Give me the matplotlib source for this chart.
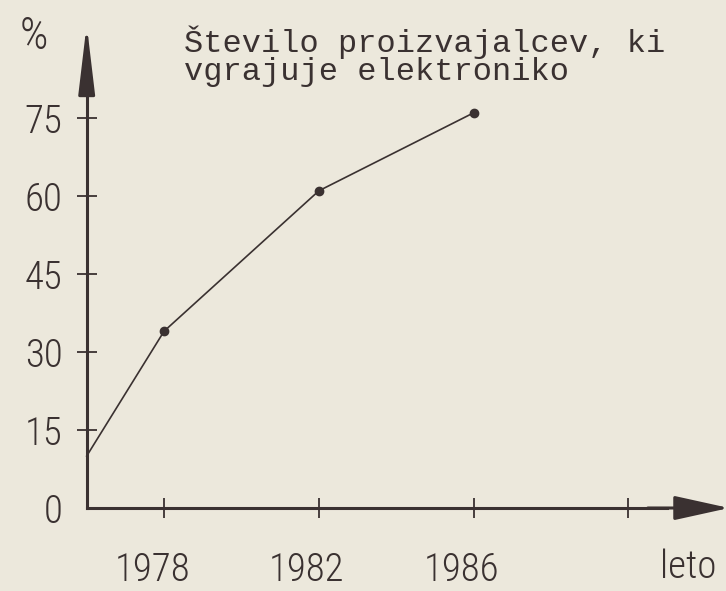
import matplotlib.pyplot as plt
import matplotlib.transforms as mtransforms
from matplotlib import font_manager

# Data
years = [1976, 1978, 1982, 1986]
share = [10, 34, 61, 76]

y_ticks = [0, 15, 30, 45, 60, 75]
x_ticks = [1978, 1982, 1986, 1990]
x_labels = ["1978", "1982", "1986", ""]

title_lines = "Število proizvajalcev, ki\nvgrajuje elektroniko"

PAPER = "#ece8dc"
INK = "#3a3131"

# pick a narrow face for the numbers if one is installed
names = {f.name for f in font_manager.fontManager.ttflist}
NUM_FONT = "DejaVu Sans"
for cand in ["Liberation Sans Narrow", "DejaVu Sans Condensed", "Roboto Condensed",
             "Open Sans Condensed", "Noto Sans Condensed"]:
    if cand in names:
        NUM_FONT = cand
        break
num_kw = dict(family=[NUM_FONT, "DejaVu Sans"], stretch="condensed", weight="light")

fig = plt.figure(figsize=(7.26, 5.91), dpi=100, facecolor=PAPER)
ax = fig.add_axes([0, 0, 1, 1], facecolor=PAPER)
ax.set_xlim(1973.76, 1992.52)
ax.set_ylim(-15.96, 97.69)

# Axes drawn hand-style: spines crossing at (1976, 0)
for side in ["top", "right"]:
    ax.spines[side].set_visible(False)
ax.spines["left"].set_position(("data", years[0]))
ax.spines["bottom"].set_position(("data", 0))
ax.spines["left"].set_bounds(0, 85)
ax.spines["bottom"].set_bounds(years[0], 1991)
for side in ["left", "bottom"]:
    ax.spines[side].set_linewidth(2.2)
    ax.spines[side].set_color(INK)

# Arrow heads
ax.annotate("", xy=(years[0], 93), xytext=(years[0], 80), annotation_clip=False,
            arrowprops=dict(arrowstyle="-|>,head_length=4.2,head_width=0.5",
                            color=INK, lw=2.2, shrinkA=0, shrinkB=0))
ax.annotate("", xy=(1992.6, 0), xytext=(1990.5, 0), annotation_clip=False,
            arrowprops=dict(arrowstyle="-|>,head_length=3.4,head_width=0.75",
                            color=INK, lw=2.2, shrinkA=0, shrinkB=0))

ax.set_yticks(y_ticks)
ax.set_yticklabels([str(v) for v in y_ticks])
ax.set_xticks(x_ticks)
ax.set_xticklabels(x_labels)
ax.tick_params(axis="both", direction="inout", length=15, width=1.3,
               color=INK, labelcolor=INK, labelsize=28)
ax.tick_params(axis="y", pad=10)
ax.tick_params(axis="x", pad=24)
for lab in ax.get_yticklabels() + ax.get_xticklabels():
    lab.set_fontfamily(num_kw["family"])
    lab.set_fontstretch("condensed")
    lab.set_fontweight("light")
shift = mtransforms.ScaledTranslation(-12 / 100, 0, fig.dpi_scale_trans)
for lab in ax.get_xticklabels():
    lab.set_transform(lab.get_transform() + shift)
# hide the tick at the origin
ax.yaxis.get_major_ticks()[0].tick1line.set_visible(False)

# the curve
ax.plot(years, share, color=INK, lw=1.2, zorder=3)
ax.plot(years[1:], share[1:], "o", color=INK, markersize=6, zorder=4)

# labels
ax.text(0.047, 0.937, "%", transform=ax.transAxes, ha="center", va="center",
        fontsize=32, color=INK, **num_kw)
ax.text(0.948, 0.04, "leto", transform=ax.transAxes, ha="center", va="center",
        fontsize=28, color=INK, **num_kw)
ax.text(0.253, 0.905, title_lines, transform=ax.transAxes, ha="left", va="center",
        fontsize=23, color=INK, family=["Liberation Mono", "DejaVu Sans Mono"],
        linespacing=0.9)

fig.savefig("out.png", dpi=100, facecolor=PAPER)
